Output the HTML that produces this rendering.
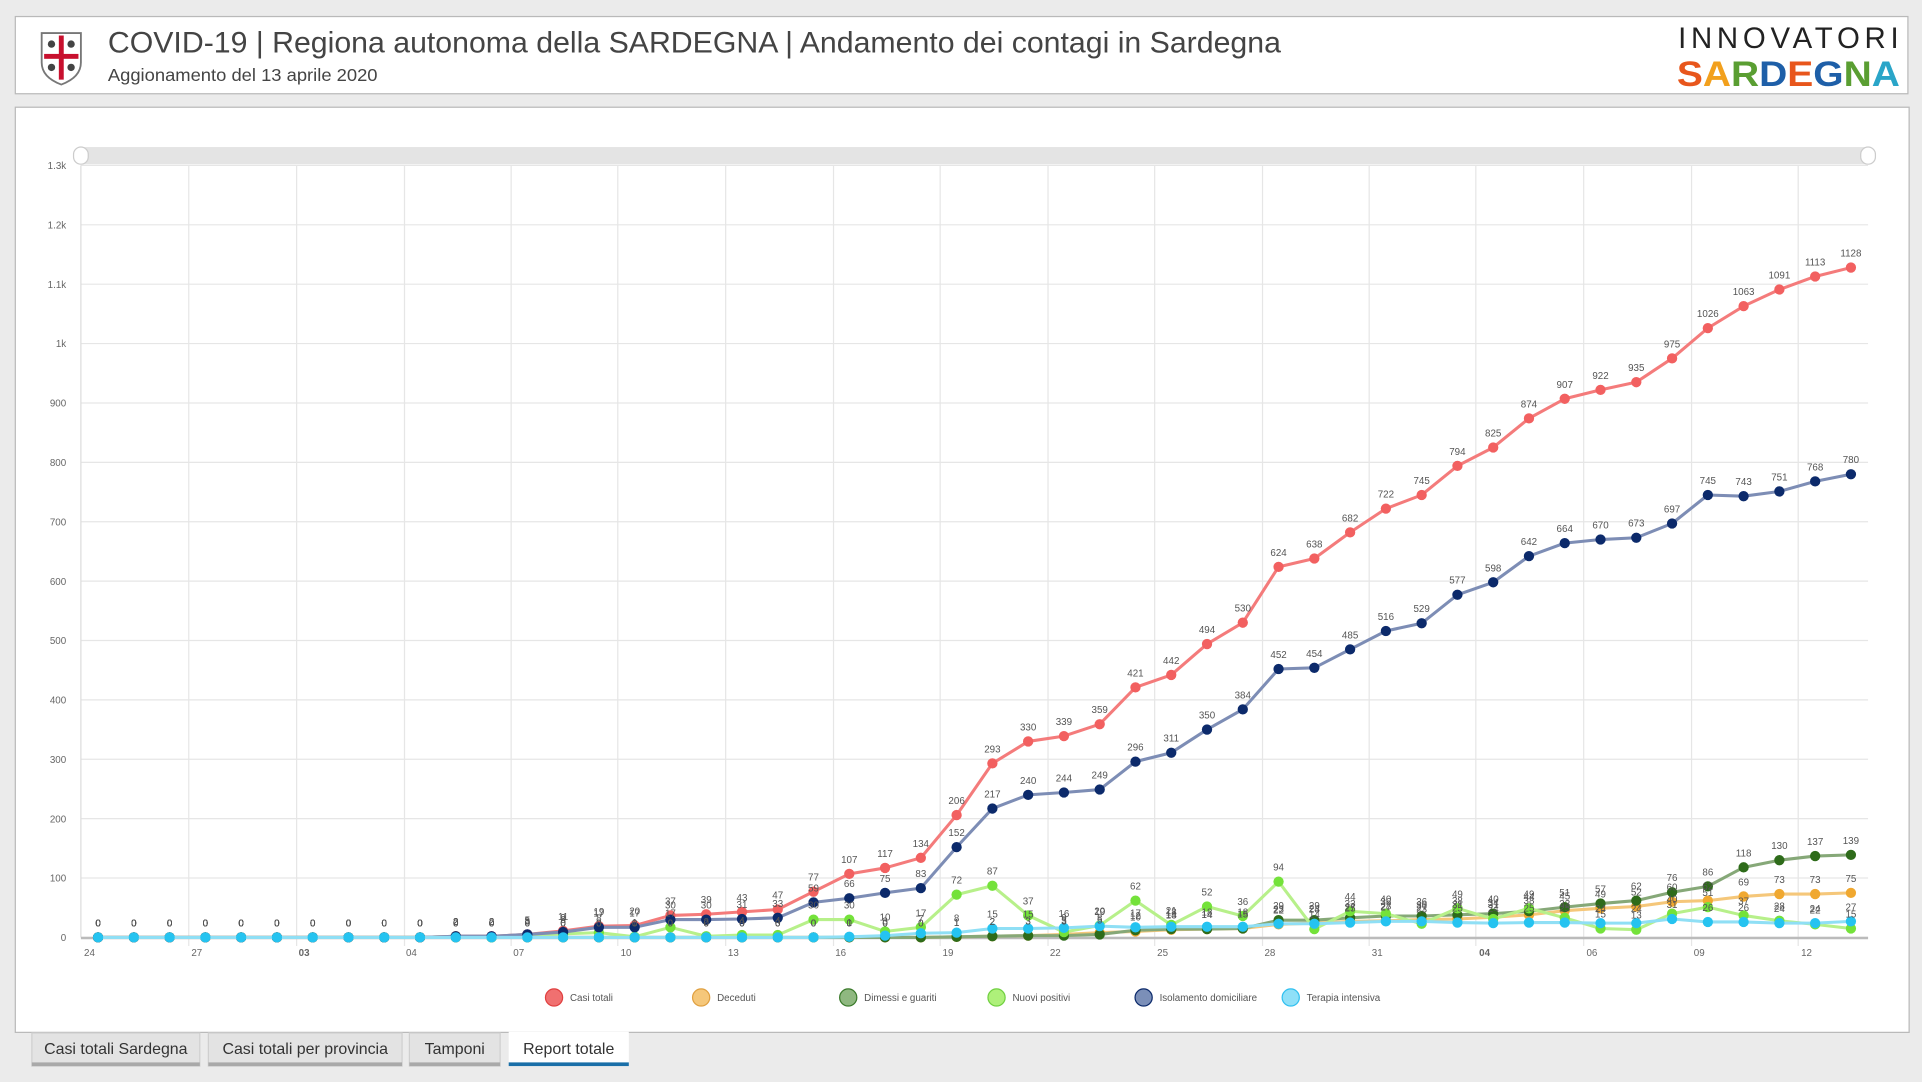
<!DOCTYPE html>
<html><head><meta charset="utf-8"><style>
html,body{margin:0;padding:0;background:#ebebeb;width:1922px;height:1082px;overflow:hidden}
svg{display:block}
text{font-family:"Liberation Sans",sans-serif}
</style></head><body>
<svg id="s" width="1922" height="1082" viewBox="0 0 1568 883" preserveAspectRatio="none" xmlns="http://www.w3.org/2000/svg">
<rect x="0" y="0" width="1568" height="883" fill="#ebebeb"/>
<rect x="12.5" y="13.5" width="1544" height="63" fill="#fff" stroke="#b9b9b9"/>
<g transform="translate(50,45)">
<path d="M-16,-18 L16,-18 L16,6 Q16,18 0,24 Q-16,18 -16,6 Z" fill="#fff" stroke="#777" stroke-width="1.5"/>
<rect x="-2" y="-16" width="4" height="36" fill="#c8102e"/><rect x="-14" y="-1" width="28" height="4" fill="#c8102e"/>
<circle cx="-8" cy="-9" r="3" fill="#444"/><circle cx="8" cy="-9" r="3" fill="#444"/><circle cx="-8" cy="10" r="3" fill="#444"/><circle cx="8" cy="10" r="3" fill="#444"/>
</g>
<text x="88" y="43" font-size="24" fill="#444" textLength="957" lengthAdjust="spacingAndGlyphs">COVID-19 | Regiona autonoma della SARDEGNA | Andamento dei contagi in Sardegna</text>
<text x="88" y="66" font-size="14" fill="#444" textLength="220" lengthAdjust="spacingAndGlyphs">Aggionamento del 13 aprile 2020</text>
<text x="1369" y="39" font-size="24" fill="#222" textLength="180" lengthAdjust="spacing">INNOVATORI</text>
<text x="1368" y="70" font-size="29" font-weight="bold" textLength="182" lengthAdjust="spacingAndGlyphs"><tspan fill="#e8561c">S</tspan><tspan fill="#f2a01d">A</tspan><tspan fill="#5a9e32">R</tspan><tspan fill="#1e5fa8">D</tspan><tspan fill="#e8561c">E</tspan><tspan fill="#1e5fa8">G</tspan><tspan fill="#5a9e32">N</tspan><tspan fill="#2aa5c8">A</tspan></text>
<rect x="12.5" y="87.5" width="1545" height="755" fill="#fff" stroke="#b9b9b9"/>
<rect x="66" y="120" width="1458" height="14" fill="#e4e4e4"/>
<rect x="60" y="120" width="12" height="14" rx="6" fill="#fff" stroke="#ccc"/>
<rect x="1518" y="120" width="12" height="14" rx="6" fill="#fff" stroke="#ccc"/>
<g id="grid"></g><g id="series"></g>
<g id="legend" font-size="8" fill="#555">
<circle cx="452" cy="814" r="7" fill="#f07070" stroke="#e04040"/><text x="465" y="817">Casi totali</text>
<circle cx="572" cy="814" r="7" fill="#f5c77a" stroke="#e0a040"/><text x="585" y="817">Deceduti</text>
<circle cx="692" cy="814" r="7" fill="#8fb880" stroke="#3a7a2a"/><text x="705" y="817">Dimessi e guariti</text>
<circle cx="813" cy="814" r="7" fill="#aef07a" stroke="#70d040"/><text x="826" y="817">Nuovi positivi</text>
<circle cx="933" cy="814" r="7" fill="#7b8fb8" stroke="#0c2a6b"/><text x="946" y="817">Isolamento domiciliare</text>
<circle cx="1053" cy="814" r="7" fill="#8fe0f8" stroke="#30c0f0"/><text x="1066" y="817">Terapia intensiva</text>
</g>
<rect x="26" y="843" width="137" height="27" fill="#e3e3e3" stroke="#cfcfcf"/><rect x="26" y="867" width="137" height="3" fill="#a9a9a9"/>
<text x="94.5" y="860" font-size="13" fill="#333" text-anchor="middle">Casi totali Sardegna</text>
<rect x="170" y="843" width="158" height="27" fill="#e3e3e3" stroke="#cfcfcf"/><rect x="170" y="867" width="158" height="3" fill="#a9a9a9"/>
<text x="249" y="860" font-size="13" fill="#333" text-anchor="middle">Casi totali per provincia</text>
<rect x="334" y="843" width="74" height="27" fill="#e3e3e3" stroke="#cfcfcf"/><rect x="334" y="867" width="74" height="3" fill="#a9a9a9"/>
<text x="371" y="860" font-size="13" fill="#333" text-anchor="middle">Tamponi</text>
<rect x="415" y="842" width="98" height="28" fill="#fff"/><rect x="415" y="867" width="98" height="3" fill="#1a6fa8"/>
<text x="464" y="860" font-size="13" fill="#333" text-anchor="middle">Report totale</text>
</svg>
<script>
const NS="http://www.w3.org/2000/svg";
function el(p,t,a,txt){const e=document.createElementNS(NS,t);for(const k in a)e.setAttribute(k,a[k]);if(txt!=null)e.textContent=txt;p.appendChild(e);return e;}
const g=document.getElementById('grid'),S=document.getElementById('series');
const Y=v=>765-v*0.48462, X=i=>80+i*29.184;
const yl=['0','100','200','300','400','500','600','700','800','900','1k','1.1k','1.2k','1.3k'];
yl.forEach((l,k)=>{const y=Y(k*100);el(g,'line',{x1:66,x2:1524,y1:y,y2:y,stroke:'#e6e6e6','stroke-width':1});el(g,'text',{x:54,y:y+3,'font-size':8,fill:'#666','text-anchor':'end'},l);});
el(g,'line',{x1:66,x2:66,y1:135,y2:765,stroke:'#ddd'});
[154,242,330,417,504,592,680,767,855,942,1030,1117,1204,1292,1380,1467].forEach(x=>el(g,'line',{x1:x,x2:x,y1:135,y2:772,stroke:'#e6e6e6'}));
el(g,'line',{x1:66,x2:1524,y1:765.5,y2:765.5,stroke:'#bbb','stroke-width':2});
const xl=['24','27','03','04','07','10','13','16','19','22','25','28','31','04','06','09','12'];
xl.forEach((l,k)=>el(g,'text',{x:73+k*87.55,y:780,'font-size':8,fill:'#666','text-anchor':'middle','font-weight':(k==2||k==13)?'bold':'normal'},l));
const z=n=>Array(n).fill(0);
const tot=z(10).concat([2,2,5,11,19,20,37,39,43,47,77,107,117,134,206,293,330,339,359,421,442,494,530,624,638,682,722,745,794,825,874,907,922,935,975,1026,1063,1091,1113,1128]);
const iso=z(10).concat([2,2,5,9,17,17,30,30,31,33,59,66,75,83,152,217,240,244,249,296,311,350,384,452,454,485,516,529,577,598,642,664,670,673,697,745,743,751,768,780]);
const nuo=z(10).concat([2,0,3,6,8,1,17,2,4,4,30,30,10,17,72,87,37,9,20,62,21,52,36,94,14,44,40,23,49,31,49,33,15,13,40,51,37,28,22,15]);
const ter=z(21).concat([1,3,7,8,15,15,16,19,17,18,18,18,23,23,25,27,27,25,24,25,25,24,24,31,26,26,24,24,27]);
const dim=z(22).concat([0,0,1,2,3,3,5,12,14,14,15,29,29,33,36,36,38,40,44,51,57,62,76,86,118,130,137,139]);
const dec=z(22).concat([0,0,1,2,3,5,8,10,13,14,15,22,24,27,28,30,31,34,38,45,49,52,60,62,69,73,73,75]);
const series=[
 [dec,'#f5c77a','#f0a830'],[dim,'#86a878','#2e6b1a'],[nuo,'#b7f08a','#74e23a'],
 [tot,'#f47b7b','#f26060'],[iso,'#7d8db5','#0c2a6b'],[ter,'#8fdff5','#25c3f0']];
series.forEach(([d,lc,pc])=>{
 el(S,'polyline',{points:d.map((v,i)=>X(i)+','+Y(v)).join(' '),fill:'none',stroke:lc,'stroke-width':2.5,'stroke-linejoin':'round'});
 d.forEach((v,i)=>{el(S,'circle',{cx:X(i),cy:Y(v),r:4.2,fill:pc});});
});
series.forEach(([d])=>{d.forEach((v,i)=>el(S,'text',{x:X(i),y:Y(v)-9,'font-size':8,fill:'#555','text-anchor':'middle'},String(v)));});
</script>
</body></html>
